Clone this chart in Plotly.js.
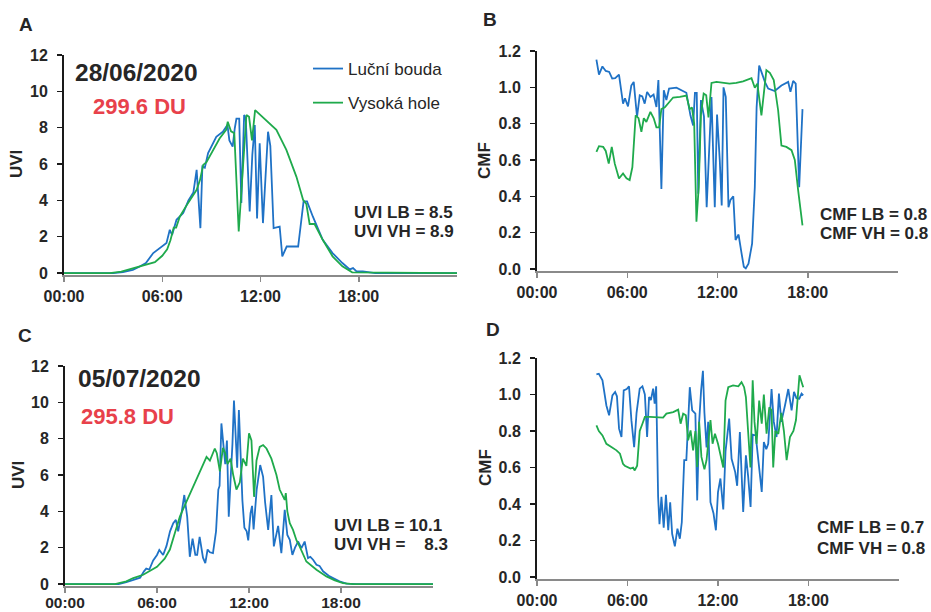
<!DOCTYPE html>
<html>
<head>
<meta charset="utf-8">
<script src="https://cdn.plot.ly/plotly-3.0.1.min.js"></script>
<style>html,body{margin:0;padding:0;background:#fff;}#chart{width:931px;height:612px;}</style>
</head>
<body>
<div id="chart"></div>
<script>
// ---------- data (hours of day) ----------
const tickHours = [0, 6, 12, 18];
const tickLabels = ["00:00", "06:00", "12:00", "18:00"];
const seriesNames = ["Luční bouda", "Vysoká hole"];

// Panel A: UVI 28/06/2020
const aTimeLB = [0, 3.0, 3.6, 4.2, 4.6, 5.0, 5.45, 5.85, 6.26, 6.46, 6.6, 6.87, 7.28, 7.6, 7.9, 8.1, 8.33, 8.45, 8.6, 8.8, 9.3, 9.7, 9.98, 10.1, 10.3, 10.43, 10.53, 10.7, 10.83, 11.0, 11.1, 11.34, 11.5, 11.65, 11.79, 11.95, 12.15, 12.46, 12.6, 12.8, 13.17, 13.33, 13.6, 14.3, 14.63, 14.84, 15.2, 15.8, 16.4, 17.0, 17.24, 17.45, 17.65, 17.85, 18.25, 18.65, 19.0, 24];
const aUviLB  = [0, 0, 0.05, 0.18, 0.35, 0.55, 1.1, 1.37, 1.65, 2.38, 2.1, 2.93, 3.3, 4.0, 4.43, 5.68, 2.47, 5.86, 5.8, 6.6, 7.5, 7.78, 8.15, 7.3, 6.96, 7.97, 8.5, 8.5, 3.85, 8.7, 8.5, 3.39, 6.5, 8.15, 3.0, 7.14, 2.75, 7.78, 7.0, 2.47, 2.56, 0.92, 1.46, 1.46, 3.94, 3.94, 3.1, 1.83, 1.1, 0.55, 0.37, 0.2, 0.27, 0.1, 0.09, 0.04, 0, 0];
const aTimeVH = [0, 2.8, 3.5, 4.0, 4.5, 5.0, 5.55, 6.0, 6.3, 6.5, 6.7, 6.85, 7.07, 7.4, 7.68, 8.1, 8.3, 8.5, 8.7, 9.1, 9.5, 9.9, 10.0, 10.2, 10.4, 10.67, 11.14, 11.3, 11.48, 11.67, 12.36, 12.97, 13.58, 14.19, 14.6, 14.8, 15.0, 15.3, 15.8, 16.4, 17.0, 17.6, 24];
const aUviVH  = [0, 0, 0.08, 0.2, 0.35, 0.46, 0.6, 0.95, 1.3, 1.8, 2.5, 2.5, 3.1, 3.6, 4.0, 4.58, 5.1, 5.95, 6.1, 6.78, 7.4, 7.88, 8.33, 7.8, 7.7, 2.29, 8.7, 8.6, 7.3, 8.97, 8.42, 7.88, 6.78, 5.31, 4.03, 3.8, 2.7, 2.7, 1.83, 0.92, 0.37, 0.04, 0];

// Panel B: CMF 28/06/2020
const bTimeLB = [3.95, 4.12, 4.35, 4.57, 4.8, 5.0, 5.2, 5.45, 5.72, 5.85, 6.05, 6.27, 6.43, 6.65, 6.83, 7.0, 7.16, 7.32, 7.54, 7.75, 7.94, 8.07, 8.27, 8.43, 8.6, 8.78, 9.27, 9.6, 9.93, 10.2, 10.38, 10.5, 10.62, 10.72, 10.9, 11.1, 11.28, 11.6, 11.82, 11.97, 12.15, 12.28, 12.4, 12.55, 12.73, 12.86, 13.05, 13.2, 13.4, 13.6, 13.75, 13.88, 14.06, 14.3, 14.48, 14.6, 14.77, 14.92, 15.15, 15.37, 15.8, 16.25, 16.7, 16.85, 17.03, 17.2, 17.43, 17.65];
const bCmfLB  = [1.152, 1.07, 1.115, 1.09, 1.085, 1.048, 1.05, 1.07, 0.91, 0.94, 0.895, 1.01, 1.03, 0.837, 0.956, 0.95, 0.91, 0.975, 0.947, 0.96, 0.892, 1.04, 0.44, 0.984, 0.93, 0.993, 0.998, 0.985, 0.97, 0.846, 0.79, 0.97, 0.97, 0.415, 0.93, 0.84, 0.34, 0.947, 0.34, 0.85, 0.6, 0.35, 1.0, 0.947, 0.34, 0.38, 0.4, 0.16, 0.19, 0.086, 0.013, 0.004, 0.03, 0.14, 0.45, 0.89, 1.12, 1.085, 1.03, 0.993, 0.98, 1.01, 1.03, 0.975, 1.035, 1.02, 0.45, 0.88];
const bTimeVH = [3.95, 4.12, 4.4, 4.57, 4.77, 4.97, 5.17, 5.45, 5.72, 5.95, 6.16, 6.34, 6.56, 6.75, 6.94, 7.1, 7.27, 7.54, 7.76, 7.94, 8.12, 8.27, 8.5, 8.83, 9.05, 9.5, 9.93, 10.15, 10.3, 10.45, 10.6, 10.75, 10.9, 11.08, 11.25, 11.4, 11.6, 11.93, 12.37, 12.8, 13.25, 13.7, 14.26, 14.48, 14.65, 14.92, 15.25, 15.48, 15.74, 16.03, 16.25, 16.58, 16.92, 17.14, 17.36, 17.65];
const bCmfVH  = [0.645, 0.676, 0.672, 0.65, 0.58, 0.672, 0.58, 0.498, 0.526, 0.5, 0.49, 0.56, 0.846, 0.83, 0.755, 0.83, 0.81, 0.865, 0.83, 0.78, 0.78, 0.88, 0.89, 0.92, 0.944, 0.947, 0.955, 0.88, 0.89, 0.8, 0.26, 0.45, 0.85, 0.966, 0.956, 0.834, 1.024, 1.03, 1.026, 1.02, 1.024, 1.033, 1.05, 0.998, 1.02, 0.846, 1.094, 1.08, 1.04, 0.874, 0.68, 0.672, 0.654, 0.6, 0.434, 0.24];

// Panel C: UVI 05/07/2020
const cTimeLB = [0, 3.5, 4.0, 4.5, 4.9, 5.15, 5.3, 5.5, 5.75, 6.0, 6.15, 6.4, 6.62, 6.85, 7.06, 7.23, 7.38, 7.6, 7.78, 7.97, 8.14, 8.32, 8.5, 8.62, 8.78, 9.0, 9.15, 9.3, 9.45, 9.65, 9.85, 10.0, 10.08, 10.2, 10.34, 10.45, 10.56, 10.68, 10.82, 10.92, 11.02, 11.14, 11.23, 11.34, 11.47, 11.57, 11.7, 11.85, 11.95, 12.1, 12.2, 12.3, 12.5, 12.73, 12.92, 13.05, 13.25, 13.46, 13.62, 13.9, 14.11, 14.33, 14.5, 14.66, 14.83, 15.0, 15.2, 15.42, 15.63, 15.85, 16.0, 16.18, 16.4, 16.6, 16.83, 17.26, 17.9, 18.35, 19.0, 24];
const cUviLB  = [0, 0, 0.1, 0.25, 0.35, 0.7, 0.85, 0.8, 1.3, 1.6, 1.88, 1.6, 2.1, 2.9, 3.35, 3.53, 2.9, 3.9, 4.9, 3.7, 1.5, 2.5, 1.6, 1.6, 2.6, 1.45, 1.15, 1.9, 1.75, 1.7, 2.9, 5.2, 5.4, 8.84, 7.7, 6.6, 7.9, 3.71, 6.1, 7.7, 10.1, 7.9, 6.4, 9.57, 7.0, 4.6, 3.1, 2.9, 2.4, 3.9, 4.3, 3.0, 5.2, 6.55, 5.9, 4.5, 2.98, 4.9, 2.07, 3.2, 1.7, 4.08, 2.7, 2.43, 1.6, 2.0, 2.34, 1.98, 2.34, 1.43, 1.5, 1.34, 1.06, 1.0, 0.7, 0.42, 0.15, 0.02, 0, 0];
const cTimeVH = [0, 3.26, 4.0, 4.45, 5.1, 5.5, 6.0, 6.5, 6.84, 7.2, 7.49, 7.9, 8.36, 8.8, 9.23, 9.45, 9.6, 9.77, 9.9, 10.1, 10.3, 10.45, 10.6, 10.8, 10.97, 11.18, 11.4, 11.6, 11.83, 12.0, 12.16, 12.33, 12.49, 12.7, 12.92, 13.14, 13.46, 13.79, 14.0, 14.2, 14.33, 14.4, 14.5, 14.66, 14.87, 15.1, 15.3, 15.74, 16.4, 17.05, 17.6, 18.13, 18.8, 24];
const cUviVH  = [0, 0, 0.15, 0.33, 0.51, 0.72, 0.95, 1.4, 1.9, 2.9, 3.71, 4.5, 5.36, 6.2, 7.0, 6.8, 7.1, 7.46, 7.2, 6.2, 7.5, 7.2, 6.6, 6.9, 6.0, 5.2, 5.6, 6.9, 6.5, 8.3, 7.9, 4.8, 6.8, 7.55, 7.65, 7.46, 6.9, 6.0, 5.2, 4.8, 4.63, 5.0, 4.0, 3.35, 2.98, 2.4, 2.07, 1.24, 0.79, 0.42, 0.2, 0.05, 0, 0];

// Panel D: CMF 05/07/2020
const dTimeLB = [3.94, 4.1, 4.34, 4.6, 4.78, 5.0, 5.18, 5.3, 5.44, 5.6, 5.75, 5.95, 6.1, 6.26, 6.44, 6.6, 6.81, 6.99, 7.15, 7.3, 7.43, 7.55, 7.7, 7.8, 7.9, 8.03, 8.12, 8.25, 8.4, 8.55, 8.7, 8.83, 8.96, 9.14, 9.31, 9.47, 9.6, 9.76, 9.9, 10.13, 10.29, 10.5, 10.62, 10.75, 10.88, 11.0, 11.1, 11.24, 11.35, 11.5, 11.7, 11.86, 12.0, 12.16, 12.35, 12.5, 12.74, 12.9, 13.14, 13.27, 13.45, 13.67, 13.85, 14.0, 14.16, 14.3, 14.5, 14.67, 14.9, 15.04, 15.2, 15.33, 15.55, 15.7, 15.88, 16.04, 16.2, 16.44, 16.66, 16.88, 17.04, 17.2, 17.39, 17.54, 17.65];
const dCmfLB  = [1.11, 1.114, 1.078, 0.94, 0.886, 0.995, 1.014, 0.99, 0.813, 0.767, 1.023, 1.03, 1.045, 0.858, 0.712, 0.9, 1.032, 1.045, 1.0, 0.767, 0.986, 0.97, 1.032, 0.95, 1.045, 0.44, 0.29, 0.44, 0.27, 0.45, 0.256, 0.41, 0.237, 0.168, 0.265, 0.21, 0.3, 0.64, 0.64, 1.04, 0.913, 0.895, 0.42, 0.85, 1.023, 1.13, 0.9, 0.71, 0.85, 0.41, 0.35, 0.256, 0.466, 0.54, 0.37, 0.69, 0.868, 0.648, 0.575, 0.5, 0.794, 0.356, 0.667, 0.55, 0.384, 0.78, 0.776, 0.63, 0.466, 0.74, 0.7, 0.73, 1.03, 0.85, 0.767, 1.005, 0.85, 0.94, 1.03, 0.913, 1.014, 0.98, 0.977, 1.005, 0.995];
const dTimeVH = [3.94, 4.1, 4.34, 4.6, 4.93, 5.27, 5.5, 5.7, 5.82, 6.04, 6.2, 6.37, 6.48, 6.64, 6.81, 6.99, 7.15, 7.48, 7.92, 8.36, 8.58, 9.03, 9.36, 9.52, 9.69, 9.87, 10.02, 10.18, 10.35, 10.5, 10.62, 10.75, 10.9, 11.1, 11.24, 11.5, 11.64, 11.8, 12.0, 12.35, 12.5, 12.68, 13.0, 13.35, 13.56, 13.73, 13.85, 14.0, 14.15, 14.3, 14.42, 14.56, 14.73, 14.9, 15.04, 15.22, 15.4, 15.55, 15.66, 15.8, 16.0, 16.2, 16.37, 16.55, 16.77, 17.0, 17.17, 17.4, 17.54, 17.65];
const dCmfVH  = [0.831, 0.8, 0.776, 0.73, 0.712, 0.694, 0.676, 0.62, 0.61, 0.6, 0.594, 0.6, 0.584, 0.61, 0.8, 0.84, 0.877, 0.877, 0.873, 0.873, 0.895, 0.904, 0.917, 0.84, 0.895, 0.886, 0.749, 0.803, 0.694, 0.8, 0.603, 0.85, 0.658, 0.59, 0.64, 0.86, 0.73, 0.785, 0.73, 0.6, 0.967, 1.04, 1.05, 1.045, 1.068, 1.04, 0.986, 0.8, 0.6, 1.078, 0.85, 0.73, 0.967, 0.84, 1.0, 0.785, 0.93, 0.913, 0.6, 0.8, 0.785, 0.9, 0.8, 0.64, 0.767, 0.8, 0.86, 1.105, 1.068, 1.04];

// Text content
const panelLetters = ["A", "B", "C", "D"];
const dates = ["28/06/2020", "05/07/2020"];
const ozone = ["299.6 DU", "295.8 DU"];
const statsA = ["UVI LB = 8.5", "UVI VH = 8.9"];
const statsB = ["CMF LB = 0.8", "CMF VH = 0.8"];
const statsC = ["UVI LB = 10.1", "UVI VH =\u00a0\u00a0\u00a0 8.3"];
const statsD = ["CMF LB = 0.7", "CMF VH = 0.8"];

// ---------- styling ----------
const W = 931, H = 612;
const FONT = "Liberation Sans, Arial, Helvetica, sans-serif";
const BLUE = "#1f72c6", GREEN = "#1faa4c", RED = "#e8414b", TXT = "#262626";
const px = x => x / W;
const py = y => 1 - y / H;

function line(x, y, color, name, xa, ya, show, grp) {
  return {x: x, y: y, type: "scatter", mode: "lines", name: name,
    line: {color: color, width: 1.8}, xaxis: xa, yaxis: ya,
    showlegend: show, legendgroup: grp, hoverinfo: "skip"};
}

const traces = [
  line(aTimeLB, aUviLB, BLUE, seriesNames[0], "x", "y", true, "lb"),
  line(aTimeVH, aUviVH, GREEN, seriesNames[1], "x", "y", true, "vh"),
  line(bTimeLB, bCmfLB, BLUE, seriesNames[0], "x2", "y2", false, "lb"),
  line(bTimeVH, bCmfVH, GREEN, seriesNames[1], "x2", "y2", false, "vh"),
  line(cTimeLB, cUviLB, BLUE, seriesNames[0], "x3", "y3", false, "lb"),
  line(cTimeVH, cUviVH, GREEN, seriesNames[1], "x3", "y3", false, "vh"),
  line(dTimeLB, dCmfLB, BLUE, seriesNames[0], "x4", "y4", false, "lb"),
  line(dTimeVH, dCmfVH, GREEN, seriesNames[1], "x4", "y4", false, "vh")
];

const tickFont = {family: FONT, size: 16, color: TXT, weight: "bold"};
function xAx(l, r, anchor, standoff, fsize) {
  return {domain: [px(l), px(r)], anchor: anchor, range: [0, 24],
    tickmode: "array", tickvals: tickHours, ticktext: tickLabels,
    showline: true, linecolor: "#8a8a8a", linewidth: 2, ticks: "outside",
    ticklen: 5, tickwidth: 1.5, tickcolor: "#8a8a8a", showgrid: false, zeroline: false,
    tickfont: Object.assign({}, tickFont, {size: fsize}), ticklabelstandoff: standoff,
    fixedrange: true, layer: "below traces"};
}
function yAx(b, t, anchor, range, dtick, fmt) {
  return {domain: [py(b), py(t)], anchor: anchor, range: range, dtick: dtick,
    tick0: 0, tickformat: fmt, showline: true, linecolor: "#1a1a1a", linewidth: 2,
    ticks: "outside", ticklen: 5, tickwidth: 1.5, tickcolor: "#1a1a1a",
    showgrid: false, zeroline: false, tickfont: tickFont, ticklabelstandoff: 6,
    fixedrange: true};
}

function ann(text, x, y, size, opts) {
  return Object.assign({text: text, x: px(x), y: py(y), xref: "paper", yref: "paper",
    xanchor: "left", yanchor: "middle", showarrow: false,
    font: {family: FONT, size: size, color: TXT, weight: "bold"}}, opts || {});
}

const annotations = [
  ann(panelLetters[0], 17, 25, 19),
  ann(panelLetters[1], 481, 20, 19),
  ann(panelLetters[2], 16, 335, 19),
  ann(panelLetters[3], 484, 329, 19),
  ann(dates[0], 73, 72, 24.5),
  ann(dates[1], 76, 378, 24.5),
  ann(ozone[0], 91, 106, 22, {font: {family: FONT, size: 22, color: RED, weight: "bold"}}),
  ann(ozone[1], 79, 416, 22, {font: {family: FONT, size: 22, color: RED, weight: "bold"}}),
  ann(statsA[0], 352, 212, 17), ann(statsA[1], 352, 231, 17),
  ann(statsB[0], 818, 215, 17), ann(statsB[1], 818, 234, 17),
  ann(statsC[0], 332, 525, 17), ann(statsC[1], 332, 544, 17),
  ann(statsD[0], 815, 527, 17), ann(statsD[1], 815, 548, 17),
  ann("UVI", 17, 164, 17, {xanchor: "center", textangle: -90}),
  ann("CMF", 485, 160, 17, {xanchor: "center", textangle: -90}),
  ann("UVI", 18, 475, 17, {xanchor: "center", textangle: -90}),
  ann("CMF", 485, 467, 17, {xanchor: "center", textangle: -90})
];

const layout = {
  width: W, height: H, margin: {l: 0, r: 0, t: 0, b: 0},
  paper_bgcolor: "#ffffff", plot_bgcolor: "rgba(0,0,0,0)",
  font: {family: FONT, color: TXT},
  showlegend: true,
  legend: {x: px(308), y: py(51), xanchor: "left", yanchor: "top",
    bgcolor: "rgba(0,0,0,0)", borderwidth: 0, tracegroupgap: 9,
    font: {family: FONT, size: 17, color: TXT}, traceorder: "grouped"},
  xaxis: xAx(64, 457, "y", 1, 16),
  yaxis: yAx(274.5, 55, "x", [-0.08, 12], 2, "d"),
  xaxis2: xAx(537, 898, "y2", 1, 16),
  yaxis2: yAx(270.5, 51, "x2", [-0.008, 1.2], 0.2, ".1f"),
  xaxis3: xAx(65, 433, "y3", -3, 15.5),
  yaxis3: yAx(585.5, 366, "x3", [-0.08, 12], 2, "d"),
  xaxis4: xAx(537, 899, "y4", 1, 16),
  yaxis4: yAx(578.5, 358, "x4", [-0.008, 1.2], 0.2, ".1f"),
  annotations: annotations
};

Plotly.newPlot("chart", traces, layout, {staticPlot: true, displayModeBar: false});
</script>
</body>
</html>
